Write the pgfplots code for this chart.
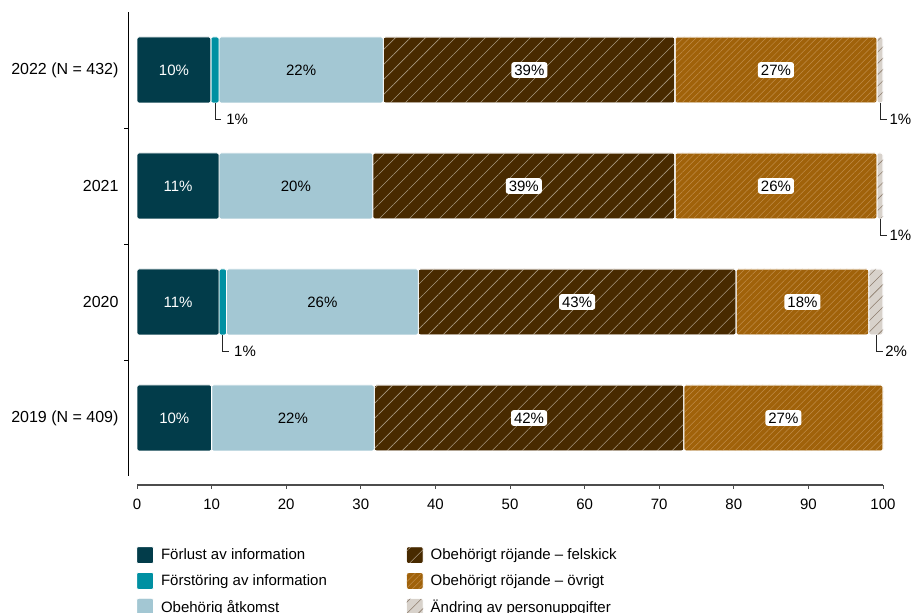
\documentclass[border=0pt]{standalone}
\usepackage{fontspec}
\setmainfont{Liberation Sans}
\usepackage{pgfplots}
\pgfplotsset{compat=1.18}
\usetikzlibrary{patterns.meta}
\definecolor{c1}{HTML}{023C4A}
\definecolor{c2}{HTML}{0090A2}
\definecolor{c3}{HTML}{A3C7D3}
\definecolor{c4}{HTML}{482A00}
\definecolor{c5}{HTML}{A0620A}
\definecolor{c6}{HTML}{D8D2CB}
\definecolor{h4}{HTML}{A89880}
\definecolor{h5}{HTML}{C08C48}
\definecolor{h6}{HTML}{8C7B6B}
\tikzset{
  lbl/.style={fill=white, rounded corners=2.5pt, inner xsep=3pt, inner ysep=2.5pt},
  ldr/.style={right, text=black, font=\fontsize{15}{18}\selectfont},
}
\begin{document}
\begin{tikzpicture}[font=\fontsize{15}{18}\selectfont]
\useasboundingbox (0,0) rectangle (916pt,613pt);
\begin{axis}[
  at={(137pt,137pt)}, anchor=south west,
  scale only axis, width=746pt, height=464pt,
  xmin=0, xmax=100, ymin=-0.5, ymax=3.5,
  xbar stacked, bar width=66pt,
  clip=false,
  axis x line*=bottom, axis y line*=left,
  axis x line shift=9pt, axis y line shift=9pt,
  x axis line style={color=black!70, line width=1.3pt, -},
  y axis line style={black, line width=0.8pt, -},
  xtick={0,10,...,100}, tick align=outside, major tick length=4pt,
  xtick style={black!70, line width=1pt},
  xticklabel style={yshift=-6pt},
  ytick={0,1,2,3}, yticklabels={2019 (N = 409),2020,2021,2022 (N = 432)},
  yticklabel style={font=\fontsize{16}{19}\selectfont, xshift=-2pt},
  ytick style={draw=none},
  extra y ticks={0.5,1.5,2.5}, extra y tick labels={},
  extra y tick style={ytick style={draw=black, line width=0.8pt}},
  /pgf/number format/assume math mode=true,
  legend columns=3, transpose legend, legend cell align=left,
  legend style={at={(0,0)}, anchor=north west, xshift=-1pt, yshift=-70pt,
    draw=none, fill=none, inner sep=0pt, row sep=8pt,
    /tikz/every odd column/.append style={column sep=5pt},
    /tikz/every even column/.append style={column sep=77pt}},
  legend image code/.code={\draw[#1, rounded corners=2pt] (0pt,-8.5pt) rectangle (17pt,8.5pt);},
]
\addplot[fill=c1, draw=white, line width=0.8pt, rounded corners=2pt]
  coordinates {(10.0,0) (11.0,1) (11.0,2) (9.9,3)};
\addlegendentry{Förlust av information}
\addplot[fill=c2, draw=white, line width=0.8pt, rounded corners=2pt]
  coordinates {(0,0) (1.0,1) (0,2) (1.1,3)};
\addlegendentry{Förstöring av information}
\addplot[fill=c3, draw=white, line width=0.8pt, rounded corners=2pt]
  coordinates {(21.8,0) (25.7,1) (20.6,2) (22.0,3)};
\addlegendentry{Obehörig åtkomst}
\addplot[fill=c4, draw=white, line width=0.8pt, rounded corners=2pt,
  postaction={pattern={Lines[angle=45, distance=10.6pt, line width=0.6pt]}, pattern color=h4}]
  coordinates {(41.5,0) (42.6,1) (40.5,2) (39.1,3)};
\addlegendentry{Obehörigt röjande – felskick}
\addplot[fill=c5, draw=white, line width=0.8pt, rounded corners=2pt,
  postaction={pattern={Lines[angle=45, distance=4.5pt, line width=0.5pt]}, pattern color=h5}]
  coordinates {(26.7,0) (17.8,1) (27.1,2) (27.1,3)};
\addlegendentry{Obehörigt röjande – övrigt}
\addplot[fill=c6, draw=white, line width=0.8pt, rounded corners=2pt,
  postaction={pattern={Lines[angle=45, distance=8pt, line width=0.6pt]}, pattern color=h6}]
  coordinates {(0,0) (1.9,1) (0.8,2) (0.8,3)};
\addlegendentry{Ändring av personuppgifter}
\end{axis}
\begin{axis}[
  at={(137pt,137pt)}, anchor=south west,
  scale only axis, width=746pt, height=464pt,
  xmin=0, xmax=100, ymin=-0.5, ymax=3.5,
  hide axis, clip=false,
  every node/.append style={font=\fontsize{16}{19}\selectfont},
]
\addplot[draw=none, forget plot] coordinates {(0,0) (100,3)};
% labels 2022
\node[text=white] at (axis cs:4.95,3) {10\%};
\node at (axis cs:22.0,3) {22\%};
\node[lbl] at (axis cs:52.6,3) {39\%};
\node[lbl] at (axis cs:85.65,3) {27\%};
% 2021
\node[text=white] at (axis cs:5.5,2) {11\%};
\node at (axis cs:21.3,2) {20\%};
\node[lbl] at (axis cs:51.85,2) {39\%};
\node[lbl] at (axis cs:85.65,2) {26\%};
% 2020
\node[text=white] at (axis cs:5.5,1) {11\%};
\node at (axis cs:24.85,1) {26\%};
\node[lbl] at (axis cs:59.0,1) {43\%};
\node[lbl] at (axis cs:89.2,1) {18\%};
% 2019
\node[text=white] at (axis cs:5.0,0) {10\%};
\node at (axis cs:20.9,0) {22\%};
\node[lbl] at (axis cs:52.55,0) {42\%};
\node[lbl] at (axis cs:86.65,0) {27\%};
% leaders
\draw[black!85, line width=0.8pt] (axis cs:10.45,2.7155) -- (axis cs:10.45,2.5776) -- (axis cs:11.25,2.5776) node[ldr, inner sep=5pt] {1\%};
\draw[black!85, line width=0.8pt] (axis cs:99.6,2.7155) -- (axis cs:99.6,2.5776) -- (axis cs:100.55,2.5776) node[ldr, inner sep=2pt] {1\%};
\draw[black!85, line width=0.8pt] (axis cs:99.6,1.7155) -- (axis cs:99.6,1.5776) -- (axis cs:100.55,1.5776) node[ldr, inner sep=2pt] {1\%};
\draw[black!85, line width=0.8pt] (axis cs:11.5,0.7155) -- (axis cs:11.5,0.5776) -- (axis cs:12.3,0.5776) node[ldr, inner sep=5pt] {1\%};
\draw[black!85, line width=0.8pt] (axis cs:99.05,0.7155) -- (axis cs:99.05,0.5776) -- (axis cs:100.0,0.5776) node[ldr, inner sep=2pt] {2\%};
\end{axis}
\end{tikzpicture}
\end{document}
